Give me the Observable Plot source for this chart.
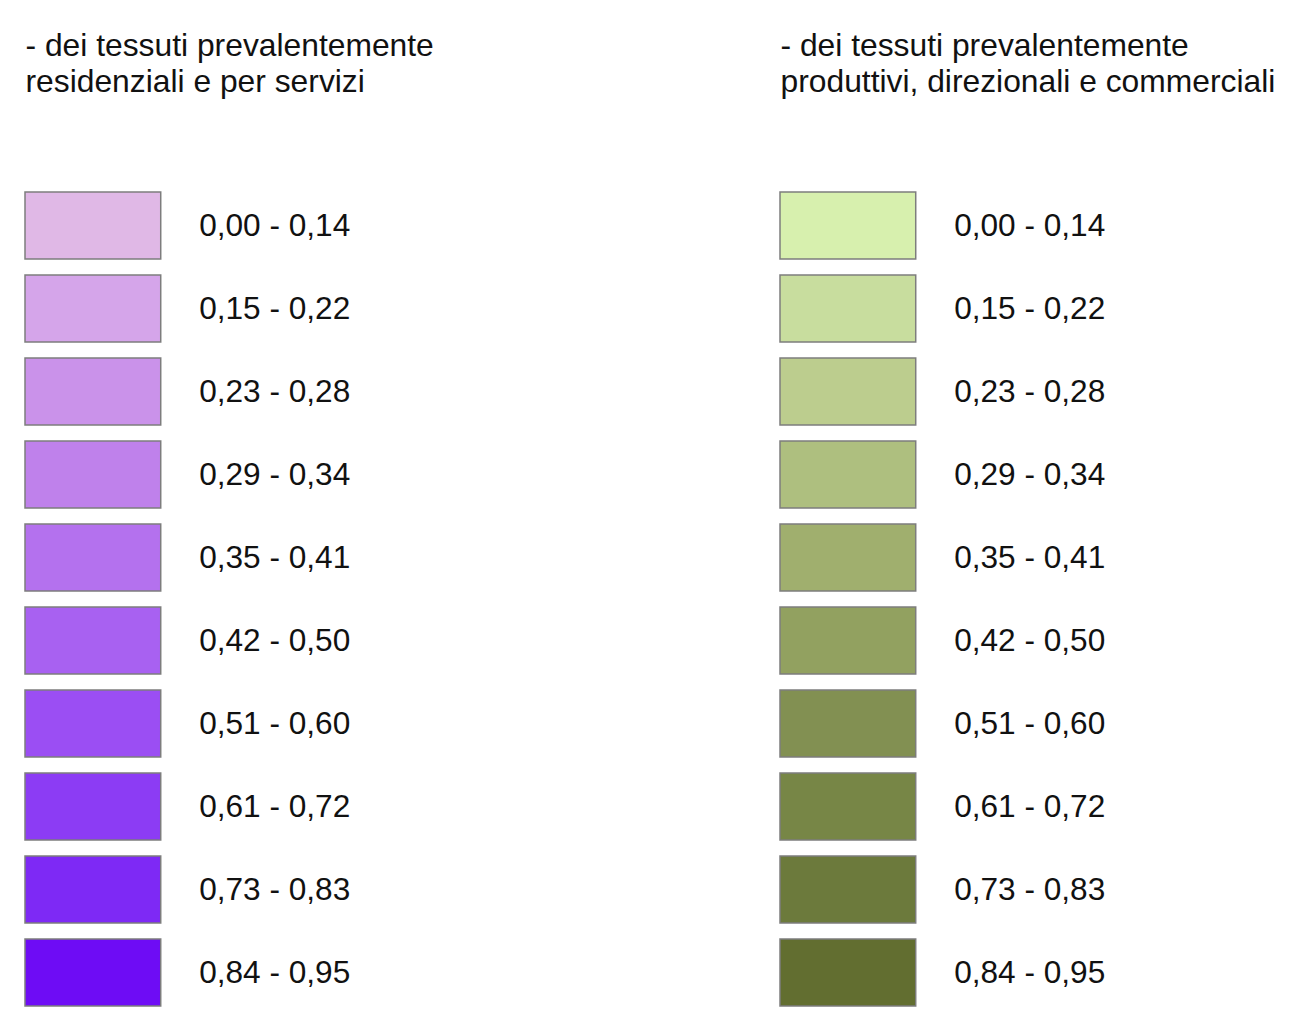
<!DOCTYPE html>
<html>
<head>
<meta charset="utf-8">
<script src="https://cdn.jsdelivr.net/npm/d3@7"></script>
<script src="https://cdn.jsdelivr.net/npm/@observablehq/plot@0.6"></script>
<style>
  html, body { margin: 0; padding: 0; background: #fff; }
  #chart svg { display: block; font-family: "Liberation Sans", Arial, sans-serif; }
</style>
</head>
<body>
<div id="chart"></div>
<script>
const groups = ["residenziali", "produttivi"];
const titles = [
  "- dei tessuti prevalentemente\nresidenziali e per servizi",
  "- dei tessuti prevalentemente\nproduttivi, direzionali e commerciali"
];
const classes = [
  "0,00 - 0,14", "0,15 - 0,22", "0,23 - 0,28", "0,29 - 0,34", "0,35 - 0,41",
  "0,42 - 0,50", "0,51 - 0,60", "0,61 - 0,72", "0,73 - 0,83", "0,84 - 0,95"
];
const purpleColors = [
  "#e0b8e6", "#d5a5ea", "#ca92ea", "#bf81eb", "#b471ee",
  "#a861f1", "#9b4ef3", "#8c3cf4", "#7e29f5", "#6e0cf5"
];
const greenColors = [
  "#d7f0ae", "#c8dd9e", "#bccd8e", "#aebf7f", "#a0af6e",
  "#92a160", "#829052", "#778646", "#6c7a3c", "#626e30"
];

const rows = [];
classes.forEach((c, i) => {
  rows.push({group: groups[0], cls: c, color: purpleColors[i]});
  rows.push({group: groups[1], cls: c, color: greenColors[i]});
});
const titleRows = groups.map((g, i) => ({group: g, title: titles[i]}));

const chart = Plot.plot({
  width: 1304,
  height: 1033,
  marginTop: 191,
  marginBottom: 26,
  marginLeft: 24,
  marginRight: 24,
  style: {fontFamily: "'Liberation Sans', Arial, sans-serif", background: "#fff"},
  facet: {marginTop: 0, marginBottom: 0, marginLeft: 0, marginRight: 0},
  fx: {domain: groups, paddingInner: 0.3386, paddingOuter: 0, axis: null, label: null},
  y: {domain: classes, paddingInner: 0.194, paddingOuter: 0, axis: null, label: null},
  x: {domain: [0, 1], axis: null, label: null},
  marks: [
    Plot.barX(rows, {
      fx: "group", y: "cls", x1: 0, x2: 0.272,
      fill: "color", stroke: "#7d7d7d", strokeWidth: 1.5
    }),
    Plot.text(rows, {
      fx: "group", y: "cls", x: 0.348, text: "cls",
      textAnchor: "start", fontSize: 31.6, fill: "#111"
    }),
    Plot.text(titleRows, {
      fx: "group", text: "title", frameAnchor: "top-left",
      dy: -161, lineHeight: 1.13, fontSize: 31.8, fill: "#111", textAnchor: "start"
    })
  ]
});
document.getElementById("chart").appendChild(chart);
</script>
</body>
</html>
